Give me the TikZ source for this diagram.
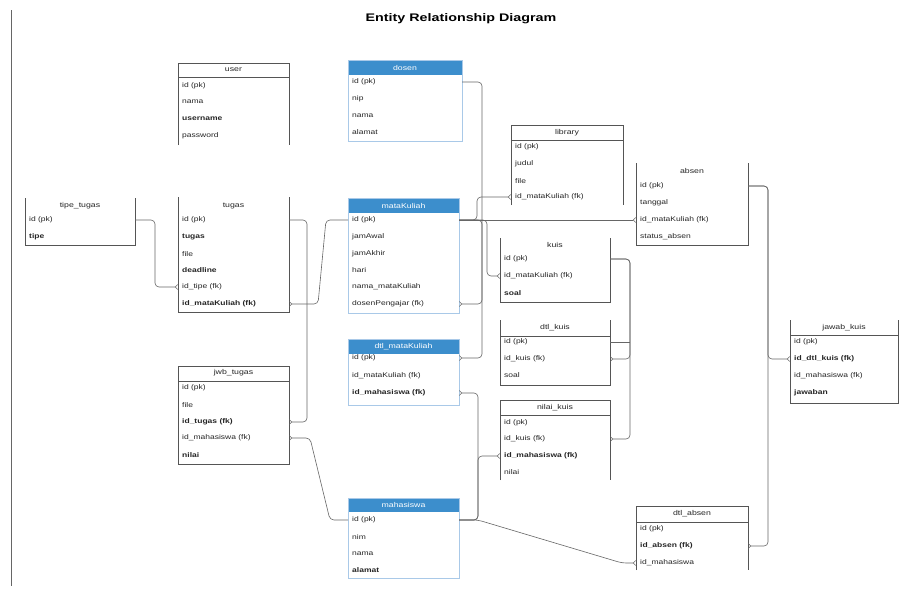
\documentclass[tikz,border=0pt]{standalone}
\usepackage{fontspec}
\setmainfont{Liberation Sans}
\newfontfamily\widefont[FakeStretch=1.25]{Liberation Sans}
\newfontfamily\titlefont[FakeStretch=1.3]{Liberation Sans}
\usetikzlibrary{arrows.meta}
\definecolor{hdblue}{HTML}{3C8ECC}
\definecolor{bdblue}{HTML}{A9C9E8}
\definecolor{bdgray}{HTML}{555555}
\definecolor{lngray}{HTML}{666666}
\tikzset{
  tb/.style={draw=bdgray, line width=0.8pt},
  bb/.style={draw=bdblue, line width=1pt},
  hfill/.style={fill=hdblue},
  rowtext/.style={anchor=west, inner sep=0pt, font=\widefont\fontsize{6.8}{7}\selectfont, text=black!85},
  rowbold/.style={rowtext, font=\widefont\fontsize{6.8}{7}\selectfont\bfseries},
  headtext/.style={inner sep=0pt, font=\widefont\fontsize{7}{8}\selectfont, text=black!85},
  bheadtext/.style={inner sep=0pt, font=\widefont\fontsize{7}{8}\selectfont, text=white},
  conn/.style={draw=lngray, line width=0.6pt, rounded corners=4pt},
  crow/.style={conn, -{Straight Barb[reversed,length=2.5pt,width=5pt]}},
}
\begin{document}
\begin{tikzpicture}[x=1pt,y=-1pt]
\useasboundingbox (0,0) rectangle (903,589);
\fill[white] (0,0) rectangle (903,589);
\draw[draw=lngray, line width=0.6pt] (11,10) -- (11,586);
\node[font=\titlefont\fontsize{11}{13}\selectfont\bfseries] (title) at (461,19) {Entity Relationship Diagram};

% ---------- user
\draw[tb] (178,145) -- (178,63) -- (289,63) -- (289,145);
\draw[tb] (178,77) -- (289,77);
\node[headtext] (user) at (233.5,70) {user};
\node[rowtext] (user-r1) at (182,86) {id (pk)};
\node[rowtext] (user-r2) at (182,102) {nama};
\node[rowbold] (user-r3) at (182,119) {username};
\node[rowtext] (user-r4) at (182,136) {password};

% ---------- dosen
\fill[hfill] (348,60) rectangle (462,75);
\draw[bb] (348,60) rectangle (462,141);
\node[bheadtext] (dosen) at (405,67.5) {dosen};
\node[rowtext] (dosen-r1) at (352,82) {id (pk)};
\node[rowtext] (dosen-r2) at (352,99) {nip};
\node[rowtext] (dosen-r3) at (352,116) {nama};
\node[rowtext] (dosen-r4) at (352,132) {alamat};

% ---------- tipe_tugas
\draw[tb] (25,198) -- (25,245) -- (135,245) -- (135,198);
\node[headtext] (tipe) at (80,206) {tipe\_tugas};
\node[rowtext] (tipe-r1) at (29,220) {id (pk)};
\node[rowbold] (tipe-r2) at (29,237) {tipe};

% ---------- tugas
\draw[tb] (178,197) -- (178,312) -- (289,312) -- (289,197);
\node[headtext] (tugas) at (233.5,206) {tugas};
\node[rowtext] (tugas-r1) at (182,220) {id (pk)};
\node[rowbold] (tugas-r2) at (182,237) {tugas};
\node[rowtext] (tugas-r3) at (182,254) {file};
\node[rowbold] (tugas-r4) at (182,270) {deadline};
\node[rowtext] (tugas-r5) at (182,287) {id\_tipe (fk)};
\node[rowbold] (tugas-r6) at (182,304) {id\_mataKuliah (fk)};

% ---------- mataKuliah
\fill[hfill] (348,198) rectangle (459,213);
\draw[bb] (348,198) rectangle (459,313);
\node[bheadtext] (mk) at (403.5,205.5) {mataKuliah};
\node[rowtext] (mk-r1) at (352,220) {id (pk)};
\node[rowtext] (mk-r2) at (352,237) {jamAwal};
\node[rowtext] (mk-r3) at (352,254) {jamAkhir};
\node[rowtext] (mk-r4) at (352,270) {hari};
\node[rowtext] (mk-r5) at (352,287) {nama\_mataKuliah};
\node[rowtext] (mk-r6) at (352,304) {dosenPengajar (fk)};

% ---------- library
\draw[tb] (511,205) -- (511,125) -- (623,125) -- (623,205);
\draw[tb] (511,140) -- (623,140);
\node[headtext] (lib) at (567,133) {library};
\node[rowtext] (lib-r1) at (515,147) {id (pk)};
\node[rowtext] (lib-r2) at (515,164) {judul};
\node[rowtext] (lib-r3) at (515,181) {file};
\node[rowtext] (lib-r4) at (515,197) {id\_mataKuliah (fk)};

% ---------- absen
\draw[tb] (636,163) -- (636,245) -- (748,245) -- (748,163);
\node[headtext] (absen) at (692,171) {absen};
\node[rowtext] (absen-r1) at (640,186) {id (pk)};
\node[rowtext] (absen-r2) at (640,203) {tanggal};
\node[rowtext] (absen-r3) at (640,220) {id\_mataKuliah (fk)};
\node[rowtext] (absen-r4) at (640,237) {status\_absen};

% ---------- kuis
\draw[tb] (500,238) -- (500,302) -- (610,302) -- (610,238);
\node[headtext] (kuis) at (555,245) {kuis};
\node[rowtext] (kuis-r1) at (504,259) {id (pk)};
\node[rowtext] (kuis-r2) at (504,276) {id\_mataKuliah (fk)};
\node[rowbold] (kuis-r3) at (504,293) {soal};

% ---------- dtl_kuis
\draw[tb] (500,320) -- (500,385) -- (610,385) -- (610,320);
\draw[tb] (500,336) -- (610,336);
\node[headtext] (dk) at (555,328) {dtl\_kuis};
\node[rowtext] (dk-r1) at (504,342) {id (pk)};
\node[rowtext] (dk-r2) at (504,359) {id\_kuis (fk)};
\node[rowtext] (dk-r3) at (504,375) {soal};

% ---------- nilai_kuis
\draw[tb] (500,480) -- (500,400) -- (610,400) -- (610,480);
\draw[tb] (500,415) -- (610,415);
\node[headtext] (nk) at (555,408) {nilai\_kuis};
\node[rowtext] (nk-r1) at (504,423) {id (pk)};
\node[rowtext] (nk-r2) at (504,439) {id\_kuis (fk)};
\node[rowbold] (nk-r3) at (504,456) {id\_mahasiswa (fk)};
\node[rowtext] (nk-r4) at (504,472) {nilai};

% ---------- jawab_kuis
\draw[tb] (790,320) -- (790,403) -- (898,403) -- (898,320);
\draw[tb] (790,335) -- (898,335);
\node[headtext] (jk) at (844,328) {jawab\_kuis};
\node[rowtext] (jk-r1) at (794,342) {id (pk)};
\node[rowbold] (jk-r2) at (794,359) {id\_dtl\_kuis (fk)};
\node[rowtext] (jk-r3) at (794,376) {id\_mahasiswa (fk)};
\node[rowbold] (jk-r4) at (794,393) {jawaban};

% ---------- dtl_mataKuliah
\fill[hfill] (348,339) rectangle (459,354);
\draw[bb] (348,339) rectangle (459,405);
\node[bheadtext] (dmk) at (403.5,346.5) {dtl\_mataKuliah};
\node[rowtext] (dmk-r1) at (352,358) {id (pk)};
\node[rowtext] (dmk-r2) at (352,376) {id\_mataKuliah (fk)};
\node[rowbold] (dmk-r3) at (352,393) {id\_mahasiswa (fk)};

% ---------- jwb_tugas
\draw[tb] (178,366) rectangle (289,464);
\draw[tb] (178,381) -- (289,381);
\node[headtext] (jt) at (233.5,373) {jwb\_tugas};
\node[rowtext] (jt-r1) at (182,388) {id (pk)};
\node[rowtext] (jt-r2) at (182,405) {file};
\node[rowbold] (jt-r3) at (182,422) {id\_tugas (fk)};
\node[rowtext] (jt-r4) at (182,438) {id\_mahasiswa (fk)};
\node[rowbold] (jt-r5) at (182,455) {nilai};

% ---------- mahasiswa
\fill[hfill] (348,498) rectangle (459,512);
\draw[bb] (348,498) rectangle (459,578);
\node[bheadtext] (mhs) at (403.5,505) {mahasiswa};
\node[rowtext] (mhs-r1) at (352,520) {id (pk)};
\node[rowtext] (mhs-r2) at (352,537) {nim};
\node[rowtext] (mhs-r3) at (352,554) {nama};
\node[rowbold] (mhs-r4) at (352,570) {alamat};

% ---------- dtl_absen
\draw[tb] (636,570) -- (636,506) -- (748,506) -- (748,570);
\draw[tb] (636,522) -- (748,522);
\node[headtext] (da) at (692,514) {dtl\_absen};
\node[rowtext] (da-r1) at (640,529) {id (pk)};
\node[rowbold] (da-r2) at (640,546) {id\_absen (fk)};
\node[rowtext] (da-r3) at (640,563) {id\_mahasiswa};

% ---------- edge anchors
\coordinate (tipeE) at (135,0);
\coordinate (tugasW) at (178,0);
\coordinate (tugasE) at (289,0);
\coordinate (jtE) at (289,0);
\coordinate (mkW) at (348,0);
\coordinate (mkE) at (459,0);
\coordinate (dosenE) at (462,0);
\coordinate (libW) at (511,0);
\coordinate (absenW) at (636,0);
\coordinate (absenE) at (748,0);
\coordinate (kuisW) at (500,0);
\coordinate (kuisE) at (610,0);
\coordinate (jkW) at (790,0);
\coordinate (mhsE) at (459,0);
\coordinate (mhsW) at (348,0);

% ---------- connectors
\draw[crow] (tipeE |- tipe-r1) -- (155,220) -- (155,287) -- (tugasW |- tugas-r5);
\draw[crow] (tugasE |- tugas-r1) -- (307,220) -- (307,422) -- (jtE |- jt-r3);
\draw[crow] (mkW |- mk-r1) -- (326,220) -- (318,304) -- (tugasE |- tugas-r6);
\draw[crow] (dosenE |- dosen-r1) -- (482,82) -- (482,304) -- (mkE |- mk-r6);
\draw[crow] (mkE |- mk-r1) -- (absenW |- absen-r3);
\draw[crow] (mkE |- mk-r1) -- (477,220) -- (477,197) -- (libW |- lib-r4);
\draw[crow] (mkE |- mk-r1) -- (487,220) -- (487,276) -- (kuisW |- kuis-r2);
\draw[crow] (mkE |- mk-r1) -- (482,220) -- (482,358) -- (mkE |- dmk-r1);
\draw[crow] (mhsE |- mhs-r1) -- (478,520) -- (478,393) -- (mkE |- dmk-r3);
\draw[crow] (mhsE |- mhs-r1) -- (478,520) -- (478,456) -- (kuisW |- nk-r3);
\draw[crow] (mhsE |- mhs-r1) -- (478,520) -- (622,563) -- (absenW |- da-r3);
\draw[crow] (mhsW |- mhs-r1) -- (330,520) -- (310,438) -- (jtE |- jt-r4);
\draw[crow] (kuisE |- kuis-r1) -- (630,259) -- (630,359) -- (kuisE |- dk-r2);
\draw[crow] (kuisE |- kuis-r1) -- (630,259) -- (630,439) -- (kuisE |- nk-r2);
\draw[conn] (kuisE |- dk-r1) -- (630,342);
\draw[crow] (absenE |- absen-r1) -- (768,186) -- (768,546) -- (absenE |- da-r2);
\draw[crow] (absenE |- absen-r1) -- (768,186) -- (768,359) -- (jkW |- jk-r2);
\end{tikzpicture}
\end{document}
